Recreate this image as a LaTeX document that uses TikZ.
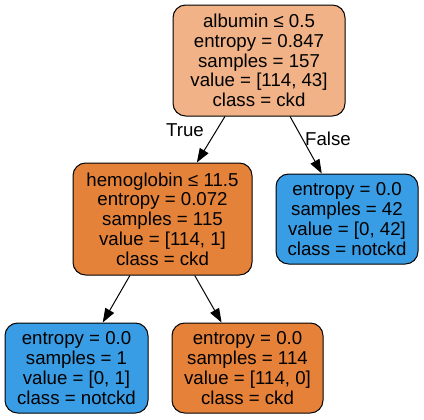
\documentclass[tikz,border=0pt]{standalone}
\usepackage{fontspec}
\setmainfont{Liberation Sans}
\usetikzlibrary{arrows.meta}
\definecolor{rootc}{RGB}{240,178,134}
\definecolor{ckdc}{RGB}{229,129,57}
\definecolor{ckdd}{RGB}{229,130,58}
\definecolor{notc}{RGB}{57,157,229}
\begin{document}
\begin{tikzpicture}[x=0.75pt,y=-0.75pt,
  box/.style={draw=black, line width=0.75pt, rounded corners=9.5pt, align=center,
    font=\fontsize{14}{14.85}\selectfont, inner sep=0pt},
  lbl/.style={font=\fontsize{14}{14.85}\selectfont, inner sep=0pt},
  edge/.style={-{Triangle[length=10.5pt,width=7.5pt]}, line width=0.75pt}]
\useasboundingbox[fill=white] (0,0) rectangle (424,419);
\node[box, fill=rootc, minimum width=129pt, minimum height=83.25pt] (root) at (259,60.5)
  {albumin ≤ 0.5\\entropy = 0.847\\samples = 157\\value = [114, 43]\\class = ckd};
\node[box, fill=ckdd, minimum width=134.25pt, minimum height=84pt] (hemo) at (162.5,219)
  {hemoglobin ≤ 11.5\\entropy = 0.072\\samples = 115\\value = [114, 1]\\class = ckd};
\node[box, fill=notc, minimum width=106.5pt, minimum height=67.5pt] (rleaf) at (347,219)
  {entropy = 0.0\\samples = 42\\value = [0, 42]\\class = notckd};
\node[box, fill=notc, minimum width=107.25pt, minimum height=67.5pt] (bl) at (76.5,368)
  {entropy = 0.0\\samples = 1\\value = [0, 1]\\class = notckd};
\node[box, fill=ckdc, minimum width=113.25pt, minimum height=67.5pt] (bm) at (247.5,368)
  {entropy = 0.0\\samples = 114\\value = [114, 0]\\class = ckd};
\draw[edge] (root) -- (hemo);
\draw[edge] (root) -- (rleaf);
\draw[edge] (hemo) -- (bl);
\draw[edge] (hemo) -- (bm);
\node[lbl] (truel) at (185,130) {True};
\node[lbl] (falsel) at (328,139) {False};
\end{tikzpicture}
\end{document}
